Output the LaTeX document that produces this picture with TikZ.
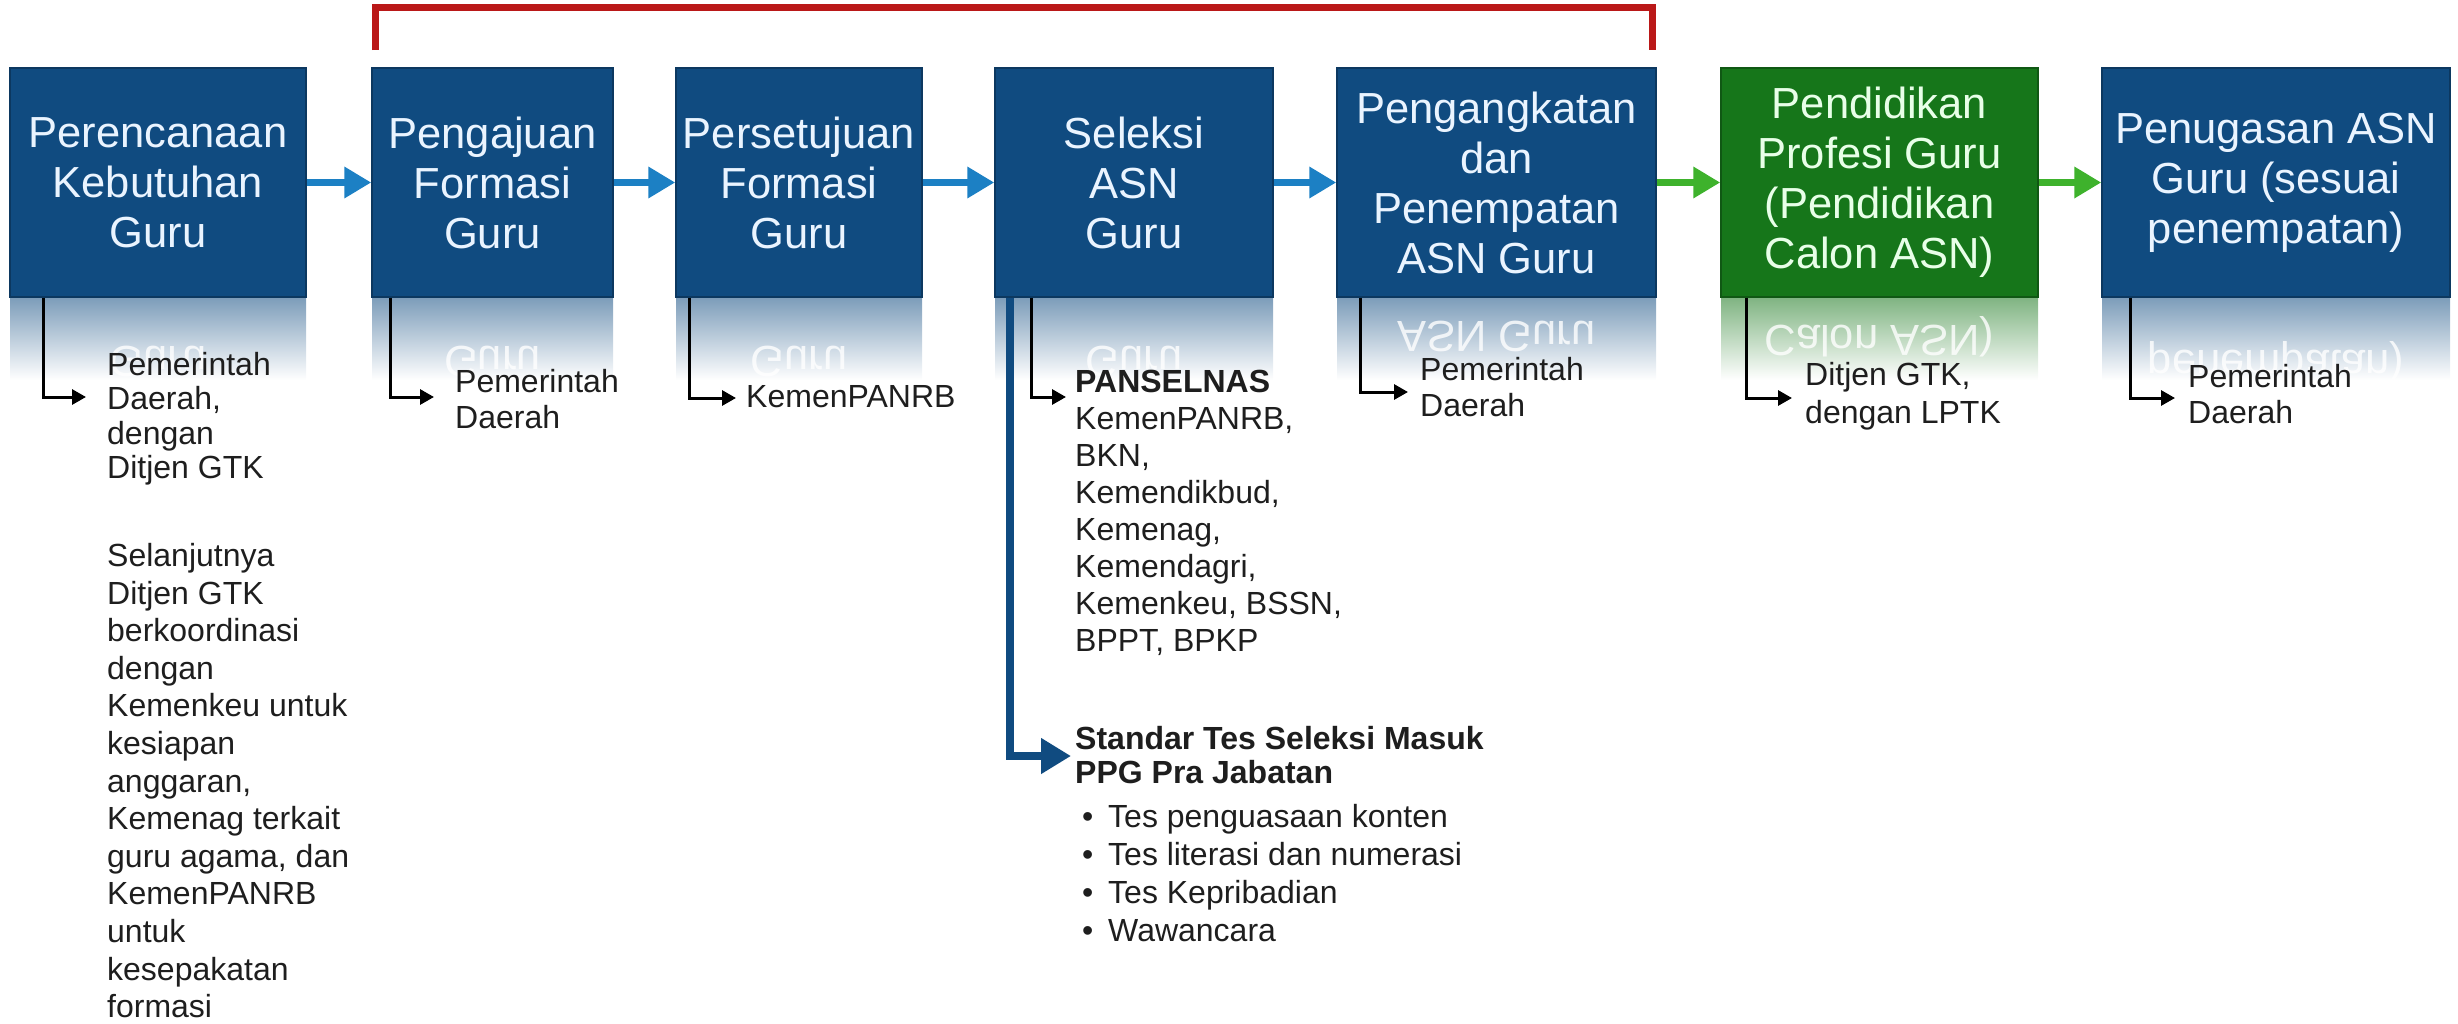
\documentclass[tikz,border=0pt]{standalone}
\usepackage{fontspec}
\setmainfont{Liberation Sans}
\usetikzlibrary{arrows.meta}
\definecolor{boxblue}{RGB}{16,75,128}
\definecolor{boxgreen}{RGB}{22,118,26}
\definecolor{arrblue}{RGB}{28,128,196}
\definecolor{arrgreen}{RGB}{62,178,44}
\definecolor{redline}{RGB}{186,24,24}
\definecolor{boxtext}{RGB}{234,244,255}
\definecolor{greentext}{RGB}{232,255,232}
\definecolor{txt}{RGB}{30,30,30}
\tikzset{
  stagebox/.style={draw=boxblue!75!black, line width=1.5pt, fill=boxblue, text=boxtext,
    inner sep=0pt, minimum height=229pt, align=center,
    font=\fontsize{43.5}{50}\selectfont},
  greenbox/.style={stagebox, draw=boxgreen!75!black, fill=boxgreen, text=greentext},
  flowblue/.style={draw=arrblue, line width=7pt, -{Triangle[width=30pt,length=27pt]}},
  flowgreen/.style={draw=arrgreen, line width=7pt, -{Triangle[width=30pt,length=27pt]}},
  conn/.style={draw=black, line width=3pt, -{Triangle[width=15pt,length=14pt]}},
  thickconn/.style={draw=boxblue, line width=8pt, -{Triangle[width=34pt,length=30pt]}},
  lbl/.style={inner sep=0pt, anchor=north west, align=left, text=txt,
    font=\fontsize{32}{36}\selectfont},
  refl/.style={inner sep=0pt, text=white, opacity=0.8, font=\fontsize{43.5}{50}\selectfont},
  bracket/.style={draw=redline, line width=7pt}
}
\begin{document}
\begin{tikzpicture}[x=1pt,y=-1pt]
\useasboundingbox (0,0) rectangle (2458,1023);

% reflections (gradients)
\shade[top color=boxblue!55!white, bottom color=white] (10,297) rectangle (306,380);
\shade[top color=boxblue!55!white, bottom color=white] (372,297) rectangle (613,380);
\shade[top color=boxblue!55!white, bottom color=white] (676,297) rectangle (922,380);
\shade[top color=boxblue!55!white, bottom color=white] (995,297) rectangle (1273,380);
\shade[top color=boxblue!55!white, bottom color=white] (1337,297) rectangle (1656,380);
\shade[top color=boxgreen!55!white, bottom color=white] (1721,297) rectangle (2038,380);
\shade[top color=boxblue!55!white, bottom color=white] (2102,297) rectangle (2450,380);

% mirrored last lines
\node[refl] (r1) at (158,361.5) {\scalebox{1}[-1]{Guru}};
\node[refl] (r2) at (492.5,361.5) {\scalebox{1}[-1]{Guru}};
\node[refl] (r3) at (799,361.5) {\scalebox{1}[-1]{Guru}};
\node[refl] (r4) at (1134,361.5) {\scalebox{1}[-1]{Guru}};
\node[refl] (r5) at (1496.5,336.5) {\scalebox{1}[-1]{ASN Guru}};
\node[refl] (r6) at (1879.5,336.5) {\scalebox{1}[-1]{Calon ASN)}};
\node[refl] (r7) at (2276,361.5) {\scalebox{1}[-1]{penempatan)}};

% stage boxes
\node[stagebox, minimum width=296pt] (b1) at (158,182.5) {Perencanaan\\Kebutuhan\\Guru};
\node[stagebox, minimum width=241pt] (b2) at (492.5,182.5) {Pengajuan\\Formasi\\Guru};
\node[stagebox, minimum width=246pt] (b3) at (799,182.5) {Persetujuan\\Formasi\\Guru};
\node[stagebox, minimum width=278pt] (b4) at (1134,182.5) {Seleksi\\ASN\\Guru};
\node[stagebox, minimum width=319pt] (b5) at (1496.5,182.5) {Pengangkatan\\dan\\Penempatan\\ASN Guru};
\node[greenbox, minimum width=317pt] (b6) at (1879.5,182.5) {Pendidikan\\Profesi Guru\\(Pendidikan\\Calon ASN)};
\node[stagebox, minimum width=348pt] (b7) at (2276,182.5) {Penugasan ASN\\Guru (sesuai\\penempatan)};

% flow arrows
\draw[flowblue] (b1.east) -- (b2.west);
\draw[flowblue] (b2.east) -- (b3.west);
\draw[flowblue] (b3.east) -- (b4.west);
\draw[flowblue] (b4.east) -- (b5.west);
\draw[flowgreen] (b5.east) -- (b6.west);
\draw[flowgreen] (b6.east) -- (b7.west);

% red bracket
\coordinate (rl) at (375,50);
\coordinate (rr) at (1652,50);
\draw[bracket] (rl) -- ++(0,-43) -| (rr);

% labels under the boxes
\node[lbl, font=\fontsize{32}{34.5}\selectfont] (t1) at (107,352) {Pemerintah\\Daerah,\\dengan\\Ditjen GTK};
\node[lbl, font=\fontsize{32}{37.6}\selectfont] (t1b) at (107,543) {Selanjutnya\\Ditjen GTK\\berkoordinasi\\dengan\\Kemenkeu untuk\\kesiapan\\anggaran,\\Kemenag terkait\\guru agama, dan\\KemenPANRB\\untuk\\kesepakatan\\formasi};
\node[lbl] (t2) at (455,369) {Pemerintah\\Daerah};
\node[lbl] (t3) at (746,385) {KemenPANRB};
\node[lbl, font=\fontsize{32}{37}\selectfont] (t4) at (1075,370) {\textbf{PANSELNAS}\\KemenPANRB,\\BKN,\\Kemendikbud,\\Kemenag,\\Kemendagri,\\Kemenkeu, BSSN,\\BPPT, BPKP};
\node[lbl, font=\fontsize{32}{34}\selectfont] (t4b) at (1075,726) {\textbf{Standar Tes Seleksi Masuk}\\\textbf{PPG Pra Jabatan}};
\node[lbl, font=\fontsize{32}{38}\selectfont] (t4c) at (1082,804) {%
\makebox[26pt][l]{•}Tes penguasaan konten\\
\makebox[26pt][l]{•}Tes literasi dan numerasi\\
\makebox[26pt][l]{•}Tes Kepribadian\\
\makebox[26pt][l]{•}Wawancara};
\node[lbl] (t5) at (1420,357) {Pemerintah\\Daerah};
\node[lbl, font=\fontsize{32}{38}\selectfont] (t6) at (1805,362) {Ditjen GTK,\\dengan LPTK};
\node[lbl] (t7) at (2188,364) {Pemerintah\\Daerah};

% connector tips
\coordinate (k1) at (86,397);
\coordinate (k2) at (434,397);
\coordinate (k3) at (736,398);
\coordinate (k4) at (1066,397);
\coordinate (k4b) at (1071,756);
\coordinate (k5) at (1408,392);
\coordinate (k6) at (1792,398);
\coordinate (k7) at (2175,398);

\draw[conn] ([xshift=34pt]b1.south west) |- (k1);
\draw[conn] ([xshift=19pt]b2.south west) |- (k2);
\draw[conn] ([xshift=14pt]b3.south west) |- (k3);
\draw[thickconn] ([xshift=16pt]b4.south west) |- (k4b);
\draw[conn] ([xshift=37pt]b4.south west) |- (k4);
\draw[conn] ([xshift=24pt]b5.south west) |- (k5);
\draw[conn] ([xshift=26pt]b6.south west) |- (k6);
\draw[conn] ([xshift=29pt]b7.south west) |- (k7);
\end{tikzpicture}
\end{document}
